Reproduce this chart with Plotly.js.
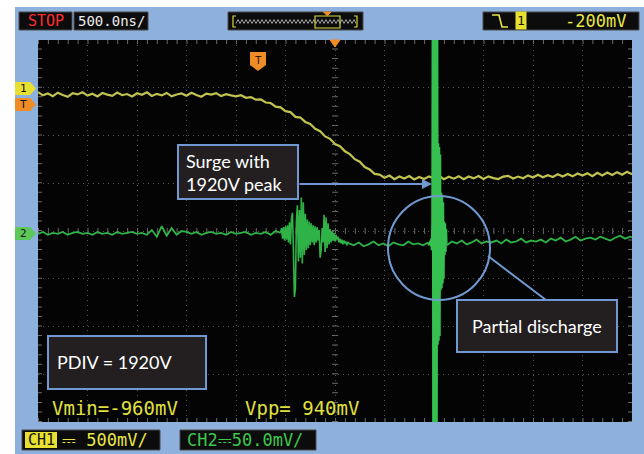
<!DOCTYPE html>
<html><head><meta charset="utf-8">
<script src="https://cdn.plot.ly/plotly-3.0.1.min.js"></script>
<style>html,body{margin:0;padding:0;background:#fff;}#chart{width:644px;height:454px;}</style>
</head><body><div id="chart"></div>
<script>
// ---- DATA ----
// time axis: 500 ns/div, 12 divisions -> 0..6000 ns
// CH1 (yellow, 500 mV/div, ground 3 div above centre) sampled every 50 ns
const ch1_t0 = 0, ch1_dt = 50;
const ch1_mV = [
 -45,-80,-60,-88,-52,-75,-95,-58,-70,-48,
 -82,-62,-90,-55,-72,-85,-50,-78,-66,-92,
 -58,-74,-48,-86,-64,-80,-54,-90,-70,-60,
 -84,-52,-76,-94,-62,-72,-56,-88,-68,-80,
 -90,-78,-105,-98,-125,-122,-155,-160,-198,-205,
 -245,-255,-305,-312,-358,-380,-430,-455,-510,-535,
 -590,-612,-665,-695,-748,-775,-830,-855,-902,-910,
 -942,-920,-958,-930,-950,-925,-960,-935,-955,-928,
 -948,-922,-957,-932,-952,-926,-958,-930,-949,-924,
 -955,-928,-946,-956,-930,-922,-950,-930,-948,-918,
 -940,-912,-938,-915,-934,-906,-930,-904,-928,-898,
 -920,-896,-925,-890,-918,-888,-914,-884,-910,-880,
 -905];
// CH2 (green, 50 mV/div) in segments with their own sample spacing
const ch2_a_t0 = 0,    ch2_a_dt = 50;   // quiet part + small burst
const ch2_a_mV = [
 -3,-1,-4,-2,-3,-1,-4,-2,-1,-3,
 -2,-4,-1,-3,-2,-4,-1,-3,-2,-1,
 -3,-2,-4,1,-6,5,-5,3,-4,0,
 -1,-3,-1,-4,-2,-1,-3,-2,-4,-1,
 -3,-2,-1,-4,-2,-3,-1,-4,0,-2];
const ch2_b_t0 = 2450, ch2_b_dt = 10;   // surge ringing
const ch2_b_mV = [
 -2,3,-8,4,-10,5,-9,6,
 -12,9,-14,12,19,
 -20,-69,-60,10,
 27,-32,22,-28,
 35,-34,30,-25,18,
 -20,12,-18,10,-15,8,-12,
 6,-15,5,-12,4,-10,
 1,-28,-20,3,-12,
 17,-22,14,-18,8,
 -14,2,-12,0,-10,-2,-11,-4,-9,
 -6,-12,-8,-13,-9,-14,-10,-13,-11,-15,-12,-13];
const ch2_c_t0 = 3140, ch2_c_dt = 50;
const ch2_c_mV = [-13,-15,-12,-16,-14,-11,-15,-13,-16,-12,-14,-15,-11,-14,-13,-15,-12];
const ch2_d_t0 = 3940, ch2_d_dt = 5;    // partial discharge pulse
const ch2_d_mV = [
 -12,-15,-12,-14,-10,-16,-8,-20,10,
 300,-300,300,-300,300,-300,300,-300,300,-300,300,
 -119,92,-115,88,-110,80,
 -62,40,-60,38,-55,30,
 -50,10,-25,8,-22,2,-15];
const ch2_e_t0 = 4130, ch2_e_dt = 50;
const ch2_e_mV = [
 -15,-11,-13,-10,-14,-12,-9,-13,-11,-12,
 -10,-13,-9,-12,-11,-8,-12,-10,-11,-9,
 -12,-8,-10,-7,-11,-9,-6,-10,-8,-7,
 -9,-6,-8,-10,-7,-5,-8,-6,-7];
const ch1_scale = 500, ch1_offsetDiv = 3, ch2_scale = 50, ch2_offsetDiv = 0;
const labels = {
  stop:'STOP', timebase:'500.0ns/', trig:'-200mV',
  surge:'Surge with<br>1920V peak', pd:'Partial discharge', pdiv:'PDIV = 1920V',
  vmin:'Vmin=-960mV', vpp:'Vpp= 940mV', ch1:'CH1', ch1s:'\u2393 500mV/', ch2:'CH2\u239350.0mV/'
};

// ---- helpers for layout positions (pixels -> paper) ----
const L=38, R=632, T=40, B=422;
const X = p => (p-L)/(R-L), Y = p => (B-p)/(B-T);
const ch1Div = a => a.map(v => ch1_offsetDiv + v/ch1_scale);
const ch2Div = a => a.map(v => ch2_offsetDiv + v/ch2_scale);

const yel='#c2c250', grn='#2fb347';
function seg(t0,dt,vals,color,w){
  return {type:'scatter',mode:'lines',x0:t0,dx:dt,y:vals,hoverinfo:'skip',
    line:{color:color,width:w,simplify:false},showlegend:false};
}
const traces=[
  seg(ch1_t0,ch1_dt,ch1Div(ch1_mV),yel,2.2),
  seg(ch2_a_t0,ch2_a_dt,ch2Div(ch2_a_mV),grn,1.8),
  seg(ch2_b_t0,ch2_b_dt,ch2Div(ch2_b_mV),grn,1.6),
  seg(ch2_c_t0,ch2_c_dt,ch2Div(ch2_c_mV),grn,1.8),
  seg(ch2_d_t0,ch2_d_dt,ch2Div(ch2_d_mV),'#35c050',1.6),
  seg(ch2_e_t0,ch2_e_dt,ch2Div(ch2_e_mV),grn,1.8)
];

const shapes=[], ann=[];
function rectP(x0,y0,x1,y1,fill,lc,lw,layer){
  shapes.push({type:'rect',xref:'paper',yref:'paper',x0:X(x0),x1:X(x1),y0:Y(y1),y1:Y(y0),
    fillcolor:fill,line:{color:lc||'rgba(0,0,0,0)',width:lw||0},layer:layer||'above'});
}
function pathP(pts,fill,lc,lw,close){
  let d='M'+pts.map(p=>X(p[0])+','+Y(p[1])).join(' L')+(close?' Z':'');
  shapes.push({type:'path',xref:'paper',yref:'paper',path:d,fillcolor:fill||'rgba(0,0,0,0)',
    line:{color:lc||'rgba(0,0,0,0)',width:lw||0},layer:'above'});
}
function txt(x,y,s,color,size,fam,xa,extra){
  ann.push(Object.assign({xref:'paper',yref:'paper',x:X(x),y:Y(y),text:s,showarrow:false,
    xanchor:xa||'center',yanchor:'middle',font:{color:color,size:size,family:fam}},extra||{}));
}
const mono='DejaVu Sans Mono, monospace', sans='Lato, Open Sans, sans-serif';

// white margins outside the scope frame
rectP(0,0,15,454,'#ffffff');
rectP(0,0,644,7,'#ffffff');

// header boxes
rectP(19,12,72,30,'#0c0c0c','#4a4a4a',1);
rectP(74,12,148,30,'#0c0c0c','#4a4a4a',1);
rectP(228,12,363,30,'#0c0c0c','#4a4a4a',1);
rectP(483,12,639,30,'#0c0c0c','#4a4a4a',1);
txt(45.5,21.5,labels.stop,'#ff2e2e',15,mono);
txt(111,21.5,labels.timebase,'#ececec',14,mono);
txt(595,21.5,labels.trig,'#e8e646',17,mono);
txt(521,21,'1','#111',13,mono,'center',{bgcolor:'#e8e030',borderpad:1});
// trigger slope icon
pathP([[492,15],[499,15],[502,27],[508,27]],null,'#e8e646',1.6);
// overview wave
(function(){const pts=[];for(let x=236;x<=356;x+=2){pts.push([x,(x/2)%2?19.5:23.5]);}pathP(pts,null,'#9a9a9a',1);})();
pathP([[236,16],[233,16],[233,27],[236,27]],null,'#d8d640',1.2);
pathP([[354,16],[357,16],[357,27],[354,27]],null,'#d8d640',1.2);
rectP(315,16,340,28,'rgba(0,0,0,0)','#d8d640',1.2);
pathP([[323,12],[331,12],[327,16]],'#f08c28','#f08c28',1);

// plot decorations: centre cross ticks and border ticks
shapes.push({type:'line',xref:'x',yref:'y',x0:3000,x1:3000,y0:-4,y1:4,line:{color:'#6a6a6a',width:6,dash:'1px,8.55px'},layer:'below'});
shapes.push({type:'line',xref:'x',yref:'y',x0:0,x1:6000,y0:0,y1:0,line:{color:'#6a6a6a',width:6,dash:'1px,8.9px'},layer:'below'});
shapes.push({type:'line',xref:'x',yref:'y',x0:0,x1:6000,y0:4,y1:4,line:{color:'#6a6a6a',width:8,dash:'1px,8.9px'},layer:'below'});
shapes.push({type:'line',xref:'x',yref:'y',x0:0,x1:6000,y0:-4,y1:-4,line:{color:'#6a6a6a',width:8,dash:'1px,8.9px'},layer:'below'});
shapes.push({type:'line',xref:'x',yref:'y',x0:0,x1:0,y0:-4,y1:4,line:{color:'#6a6a6a',width:8,dash:'1px,8.55px'},layer:'below'});
shapes.push({type:'line',xref:'x',yref:'y',x0:6000,x1:6000,y0:-4,y1:4,line:{color:'#6a6a6a',width:8,dash:'1px,8.55px'},layer:'below'});

// trigger markers
pathP([[330,40],[340,40],[335,47]],'#f08c28','#f08c28',1,true);
pathP([[250,52],[266,52],[266,65],[258,71],[250,65]],'#f08c28',null,0,true);
txt(258,60,'T','#3a1a00',11,mono);
pathP([[15,82],[30,82],[36,88.5],[30,95],[15,95]],'#e8e030',null,0,true);
txt(23,88.5,'1','#111',11,mono);
pathP([[15,98],[30,98],[36,104.5],[30,111],[15,111]],'#f08c28',null,0,true);
txt(23,104.5,'T','#111',11,mono);
pathP([[15,227],[30,227],[36,233.5],[30,240],[15,240]],'#5cc85a',null,0,true);
txt(23,233.5,'2','#111',11,mono);

// annotation boxes
const boxLine='#7199d1';
rectP(178,145,298,199,'#231f20',boxLine,2);
txt(184,172,labels.surge,'#ffffff',18,sans,'left',{align:'left'});
ann.push({xref:'paper',yref:'paper',x:X(432),y:Y(184),ax:-134,ay:0,text:'',showarrow:true,
  arrowhead:2,arrowsize:1,arrowwidth:2,arrowcolor:boxLine});
shapes.push({type:'circle',xref:'paper',yref:'paper',x0:X(388),x1:X(490),y0:Y(300),y1:Y(196),line:{color:boxLine,width:2},layer:'above'});
pathP([[488,256],[546,300]],null,boxLine,2);
rectP(457,300,617,352,'#231f20',boxLine,2);
txt(537,326,labels.pd,'#ffffff',18,sans);
rectP(48,336,206,389,'#231f20',boxLine,2);
txt(55,362,labels.pdiv,'#ffffff',18,sans,'left');

// measurements
txt(50,408,labels.vmin,'#e0e040',19,mono,'left');
txt(243,408,labels.vpp,'#e0e040',19,mono,'left');

// bottom bar
rectP(22,430,160,450,'#0c0c0c','#4a4a4a',1);
rectP(180,430,316,450,'#0c0c0c','#4a4a4a',1);
rectP(25,432,57,448,'#e8e030');
txt(41,440,labels.ch1,'#111',15,mono);
txt(60,440,labels.ch1s,'#e8e646',17,mono,'left');
txt(185,440,labels.ch2,'#3cc84e',17,mono,'left');

const layout={
  width:644,height:454,margin:{l:L,r:644-R,t:T,b:454-B},
  paper_bgcolor:'#8db0dc',plot_bgcolor:'#040404',showlegend:false,
  xaxis:{range:[0,6000],dtick:500,tick0:0,showticklabels:false,ticks:'',zeroline:false,
    showgrid:true,gridcolor:'#555555',gridwidth:1,griddash:'1px,4px',fixedrange:true},
  yaxis:{range:[-4,4],dtick:1,tick0:0,showticklabels:false,ticks:'',zeroline:false,
    showgrid:true,gridcolor:'#555555',gridwidth:1,griddash:'1px,4px',fixedrange:true},
  shapes:shapes,annotations:ann
};
Plotly.newPlot('chart',traces,layout,{staticPlot:true,displayModeBar:false});
</script></body></html>
